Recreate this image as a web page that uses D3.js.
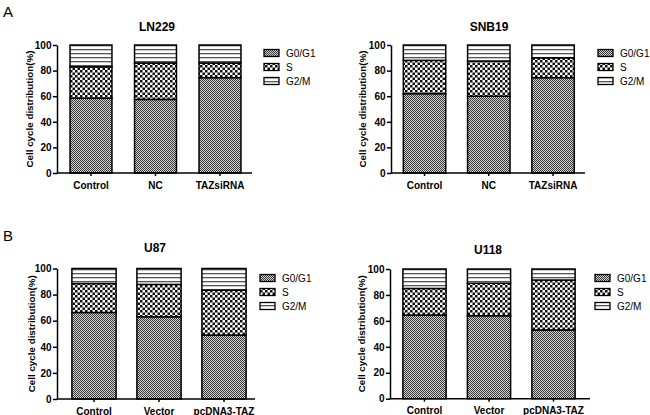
<!DOCTYPE html>
<html><head><meta charset="utf-8">
<script src="https://cdn.jsdelivr.net/npm/d3@7/dist/d3.min.js"></script>
<style>body{margin:0;background:#fff}svg{display:block;font-family:"Liberation Sans",Arial,sans-serif}</style>
</head><body>
<script>
const phases = ["G0/G1", "S", "G2/M"];
const yTicks = [0, 20, 40, 60, 80, 100];
const titles = ["LN229", "SNB19", "U87", "U118"];
const categoriesA = ["Control", "NC", "TAZsiRNA"];
const categoriesB = ["Control", "Vector", "pcDNA3-TAZ"];
// G0/G1 and S values (percent); G2/M is the remainder to 100
const ln229_G0G1 = [58.5, 57.5, 74.5];
const ln229_S    = [24.5, 28.5, 11.5];
const snb19_G0G1 = [62, 60, 74.5];
const snb19_S    = [26, 27.5, 15.5];
const u87_G0G1   = [66.3, 63, 49];
const u87_S      = [22.2, 24.8, 34.4];
const u118_G0G1  = [64.5, 64, 53];
const u118_S     = [20.5, 25, 38.5];

function g2m(a, b) { return a.map((v, i) => 100 - v - b[i]); }

const panels = [
  {title: titles[0], cats: categoriesA, g0: ln229_G0G1, s: ln229_S, ax: 57, top: 45, bot: 173, xEnd: 252, range: [58.75, 252.25], pad: 0.35, lab: 30, tx: 157, ty: 31, lx: 264, ly: 53},
  {title: titles[1], cats: categoriesA, g0: snb19_G0G1, s: snb19_S, ax: 391, top: 45, bot: 173, xEnd: 585, range: [392.4, 585.2], pad: 0.34, lab: 363, tx: 489, ty: 31, lx: 598, ly: 53},
  {title: titles[2], cats: categoriesB, g0: u87_G0G1, s: u87_S, ax: 57, top: 268.5, bot: 399, xEnd: 255, range: [61.5, 256.5], pad: 0.32, lab: 32, tx: 155, ty: 252, lx: 260, ly: 278},
  {title: titles[3], cats: categoriesB, g0: u118_G0G1, s: u118_S, ax: 390, top: 269, bot: 398.7, xEnd: 590, range: [392.25, 585.75], pad: 0.33, lab: 362, tx: 488, ty: 254, lx: 595, ly: 278}
];

const svg = d3.select("body").append("svg").attr("width", 650).attr("height", 415);
const defs = svg.append("defs");
const p1 = defs.append("pattern").attr("id", "pG0").attr("patternUnits", "userSpaceOnUse").attr("width", 2).attr("height", 2);
p1.append("rect").attr("width", 2).attr("height", 2).attr("fill", "#d0d0d0");
p1.append("rect").attr("width", 1).attr("height", 1).attr("fill", "#3a3a3a");
p1.append("rect").attr("x", 1).attr("y", 1).attr("width", 1).attr("height", 1).attr("fill", "#3a3a3a");
const p2 = defs.append("pattern").attr("id", "pS").attr("patternUnits", "userSpaceOnUse").attr("width", 5).attr("height", 5);
p2.append("rect").attr("width", 5).attr("height", 5).attr("fill", "#fff");
p2.append("rect").attr("width", 2.5).attr("height", 2.5).attr("fill", "#111");
p2.append("rect").attr("x", 2.5).attr("y", 2.5).attr("width", 2.5).attr("height", 2.5).attr("fill", "#111");
const p3 = defs.append("pattern").attr("id", "pG2").attr("patternUnits", "userSpaceOnUse").attr("width", 4).attr("height", 4);
p3.append("rect").attr("width", 4).attr("height", 4).attr("fill", "#fff");
p3.append("rect").attr("y", 1).attr("width", 4).attr("height", 1.3).attr("fill", "#555");
const fills = ["url(#pG0)", "url(#pS)", "url(#pG2)"];

svg.append("text").attr("x", 3).attr("y", 17).attr("font-size", 15).text("A");
svg.append("text").attr("x", 3).attr("y", 241).attr("font-size", 15).text("B");

panels.forEach(p => {
  const g = svg.append("g");
  const y = d3.scaleLinear().domain([0, 100]).range([p.bot, p.top]);
  const x = d3.scaleBand().domain(p.cats).range(p.range).paddingInner(p.pad).paddingOuter(p.pad / 2);
  const g2 = g2m(p.g0, p.s);
  const rows = p.cats.map((c, i) => ({c, segs: [[0, p.g0[i]], [p.g0[i], p.g0[i] + p.s[i]], [p.g0[i] + p.s[i], p.g0[i] + p.s[i] + g2[i]]]}));
  rows.forEach(r => {
    r.segs.forEach((s, k) => {
      g.append("rect").attr("x", x(r.c)).attr("width", x.bandwidth())
        .attr("y", y(s[1])).attr("height", y(s[0]) - y(s[1]))
        .attr("fill", fills[k]).attr("stroke", "#000").attr("stroke-width", 1.5);
    });
  });
  const ya = g.append("g").attr("transform", `translate(${p.ax},0)`)
    .call(d3.axisLeft(y).tickValues(yTicks).tickSize(4).tickSizeOuter(0));
  ya.select(".domain").attr("stroke-width", 1.5);
  ya.selectAll(".tick line").attr("stroke-width", 1.5);
  ya.selectAll("text").attr("font-size", 10).attr("font-weight", "bold").attr("font-family", "Liberation Sans, Arial, sans-serif").attr("dx", "0.15em");
  const xa = g.append("g").attr("transform", `translate(0,${p.bot})`)
    .call(d3.axisBottom(x).tickSize(3).tickSizeOuter(0));
  xa.select(".domain").remove();
  xa.selectAll(".tick line").attr("stroke-width", 1.5);
  xa.selectAll("text").attr("font-size", 10).attr("font-weight", "bold").attr("font-family", "Liberation Sans, Arial, sans-serif").attr("dy", "0.95em");
  g.append("line").attr("x1", p.ax).attr("x2", p.xEnd).attr("y1", p.bot).attr("y2", p.bot).attr("stroke", "#000").attr("stroke-width", 1.5);
  g.append("text").attr("x", p.tx).attr("y", p.ty).attr("text-anchor", "middle").attr("font-size", 12).attr("font-weight", "bold").text(p.title);
  g.append("text").attr("transform", `translate(${p.lab},${(p.top + p.bot) / 2}) rotate(-90)`)
    .attr("text-anchor", "middle").attr("dy", "0.35em").attr("font-size", 9.8).attr("font-weight", "bold").text("Cell cycle distribution(%)");
  phases.forEach((ph, k) => {
    const yy = p.ly + k * 14;
    g.append("rect").attr("x", p.lx).attr("y", yy - 3.5).attr("width", 15).attr("height", 7)
      .attr("fill", fills[k]).attr("stroke", "#000").attr("stroke-width", 1.3);
    g.append("text").attr("x", p.lx + 22).attr("y", yy).attr("dy", "0.35em").attr("font-size", 10).text(ph);
  });
});
</script>
</body></html>
